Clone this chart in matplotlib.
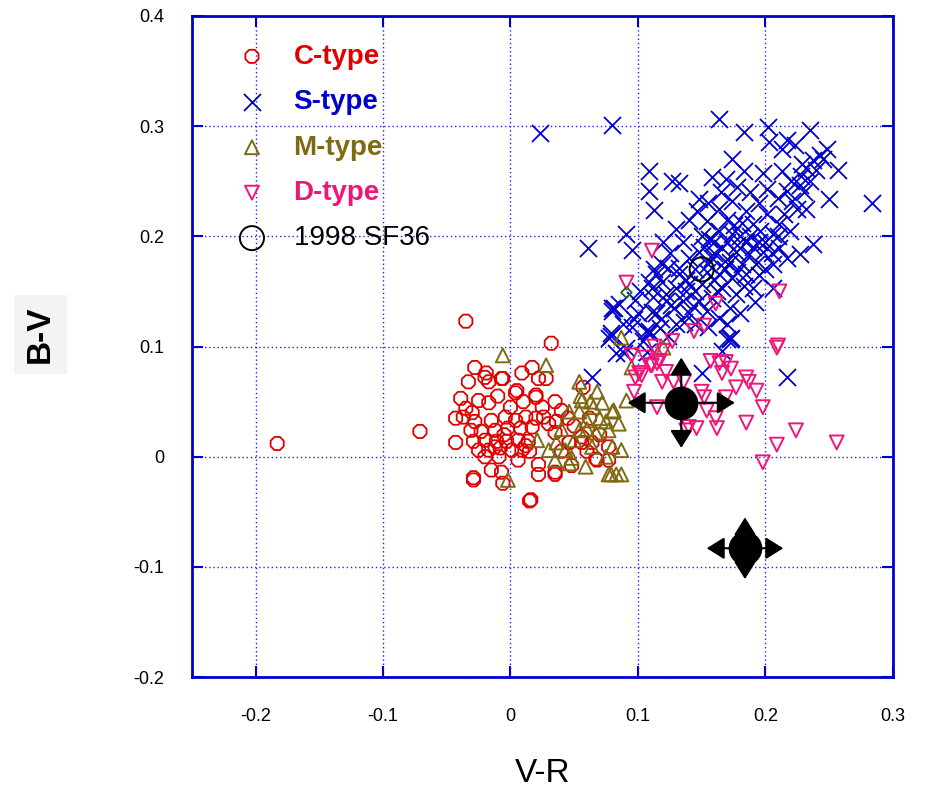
import matplotlib
matplotlib.use("Agg")
import matplotlib.pyplot as plt

# ---- data (V-R, B-V) ----
c_x = [-0.183, -0.071, -0.035, 0.032, 0.015, -0.029, -0.028, -0.033, -0.020, -0.017,
       -0.006, 0.009, 0.017, 0.022, 0.028, 0.004, 0.020, -0.039, -0.025, -0.017,
       0.035, -0.043, -0.037, -0.028, -0.015, -0.004, 0.004, 0.012, 0.020, 0.026,
       0.036, -0.031, -0.023, -0.012, -0.002, 0.008, 0.017, 0.035, -0.043, -0.029,
       -0.020, -0.011, -0.003, 0.006, 0.014, 0.046, -0.025, -0.017, -0.008, 0.001,
       0.009, -0.020, -0.009, 0.006, 0.022, -0.015, -0.007, 0.022, 0.035, -0.029,
       -0.006, 0.016, 0.064, 0.056, 0.077, 0.067, 0.057, 0.040, 0.046, 0.035,
       0.068, 0.056, 0.077, 0.000, 0.010, -0.010, 0.025, 0.030, -0.005, 0.015,
       -0.030, 0.040, 0.045, -0.019, -0.007, 0.005, 0.020, -0.012, 0.012, -0.035,
       0.050, 0.060, 0.070, 0.048, 0.062]
c_y = [0.012, 0.023, 0.123, 0.103, -0.040, -0.021, 0.081, 0.068, 0.072, 0.068,
       0.071, 0.076, 0.081, 0.071, 0.071, 0.058, 0.056, 0.053, 0.051, 0.049,
       0.050, 0.035, 0.036, 0.032, 0.033, 0.036, 0.033, 0.036, 0.035, 0.036,
       0.032, 0.024, 0.023, 0.024, 0.026, 0.026, 0.027, 0.022, 0.013, 0.014,
       0.015, 0.014, 0.014, 0.015, 0.014, 0.013, 0.006, 0.006, 0.008, 0.006,
       0.006, 0.000, 0.000, -0.003, -0.007, -0.012, -0.014, -0.016, -0.016, -0.019,
       -0.024, -0.039, 0.013, 0.018, -0.003, -0.002, 0.063, 0.042, 0.013, -0.014,
       -0.003, 0.013, 0.009, 0.045, 0.050, 0.055, 0.045, 0.030, 0.020, 0.005,
       0.040, 0.005, 0.035, 0.076, 0.071, 0.060, 0.054, 0.009, 0.010, 0.044,
       0.028, 0.005, 0.020, -0.008, 0.035]

s_x = [0.023, 0.080, 0.164, 0.183, 0.202, 0.203, 0.213, 0.217, 0.223, 0.235,
       0.248, 0.243, 0.237, 0.229, 0.257, 0.284, 0.250, 0.109, 0.109, 0.113,
       0.127, 0.132, 0.174, 0.158, 0.148, 0.169, 0.183, 0.198, 0.213, 0.201,
       0.217, 0.227, 0.221, 0.232, 0.237, 0.227, 0.091, 0.061, 0.095, 0.080,
       0.085, 0.079, 0.064, 0.217, 0.172, 0.166, 0.150, 0.079, 0.083, 0.109,
       0.107, 0.091, 0.081, 0.190, 0.206, 0.173,
       0.114, 0.119, 0.124, 0.111, 0.130, 0.122, 0.135, 0.114, 0.140, 0.109,
       0.117, 0.130, 0.135, 0.146, 0.154, 0.164, 0.174, 0.185, 0.190, 0.201,
       0.211, 0.219, 0.206, 0.195, 0.185, 0.174, 0.164, 0.156, 0.166, 0.177,
       0.187, 0.198, 0.211, 0.217, 0.206, 0.193, 0.182, 0.172, 0.158, 0.148,
       0.140, 0.154, 0.164, 0.174, 0.185, 0.166, 0.177, 0.158, 0.148, 0.172,
       0.154, 0.164, 0.140, 0.132, 0.150,
       0.080, 0.077, 0.089, 0.106, 0.111, 0.122, 0.109, 0.113, 0.119, 0.132,
       0.138, 0.143, 0.170,
       0.160, 0.170, 0.175, 0.180, 0.190, 0.160, 0.168, 0.178, 0.188, 0.196,
       0.182, 0.170, 0.150, 0.145, 0.155, 0.160, 0.168, 0.178, 0.200, 0.205,
       0.210, 0.215, 0.225, 0.230, 0.235, 0.240, 0.245, 0.232, 0.228, 0.220,
       0.210, 0.195, 0.188, 0.178, 0.165, 0.155, 0.140, 0.125, 0.120, 0.138,
       0.145, 0.152, 0.162, 0.183, 0.195, 0.200, 0.192, 0.180, 0.170, 0.155,
       0.145, 0.130, 0.128, 0.100, 0.095, 0.102, 0.098,
       0.104, 0.118, 0.126, 0.097, 0.112, 0.088, 0.124, 0.136]
s_y = [0.294, 0.301, 0.306, 0.295, 0.299, 0.286, 0.279, 0.287, 0.283, 0.296,
       0.279, 0.274, 0.269, 0.266, 0.260, 0.230, 0.234, 0.259, 0.241, 0.224,
       0.250, 0.248, 0.270, 0.254, 0.234, 0.252, 0.259, 0.257, 0.259, 0.243,
       0.241, 0.247, 0.232, 0.225, 0.193, 0.184, 0.202, 0.189, 0.188, 0.132,
       0.139, 0.112, 0.072, 0.072, 0.107, 0.096, 0.076, 0.110, 0.094, 0.112,
       0.095, 0.099, 0.135, 0.153, 0.153, 0.108,
       0.166, 0.159, 0.171, 0.153, 0.153, 0.141, 0.141, 0.130, 0.130, 0.114,
       0.117, 0.207, 0.195, 0.223, 0.214, 0.225, 0.232, 0.223, 0.211, 0.220,
       0.211, 0.205, 0.202, 0.195, 0.195, 0.202, 0.205, 0.198, 0.189, 0.186,
       0.184, 0.186, 0.189, 0.180, 0.175, 0.175, 0.175, 0.177, 0.180, 0.186,
       0.180, 0.168, 0.166, 0.162, 0.166, 0.153, 0.148, 0.144, 0.141, 0.135,
       0.132, 0.126, 0.157, 0.171, 0.157,
       0.135, 0.108, 0.094, 0.114, 0.131, 0.148, 0.159, 0.170, 0.175, 0.166,
       0.150, 0.137, 0.107,
       0.195, 0.195, 0.210, 0.200, 0.190, 0.185, 0.178, 0.192, 0.200, 0.205,
       0.212, 0.215, 0.200, 0.170, 0.175, 0.160, 0.170, 0.168, 0.195, 0.185,
       0.200, 0.220, 0.225, 0.240, 0.250, 0.260, 0.270, 0.262, 0.255, 0.250,
       0.235, 0.230, 0.240, 0.245, 0.240, 0.230, 0.215, 0.185, 0.195, 0.160,
       0.150, 0.190, 0.150, 0.155, 0.165, 0.170, 0.140, 0.130, 0.120, 0.118,
       0.120, 0.120, 0.135, 0.130, 0.118, 0.150, 0.142,
       0.105, 0.125, 0.138, 0.125, 0.145, 0.120, 0.110, 0.122]

m_x = [-0.006, 0.028, 0.054, 0.068, 0.056, 0.063, 0.072, 0.046, 0.054, 0.080,
       0.060, 0.075, 0.054, 0.067, 0.077, 0.021, 0.036, 0.030, 0.043, 0.064,
       0.080, 0.035, 0.048, 0.046, 0.059, 0.077, 0.083, -0.002, 0.087, 0.120,
       0.095, 0.081, 0.087, 0.079, 0.087, 0.091, 0.040, 0.050, 0.060, 0.070,
       0.085, 0.075, 0.065, 0.055]
m_y = [0.092, 0.083, 0.068, 0.059, 0.051, 0.050, 0.049, 0.041, 0.041, 0.041,
       0.033, 0.032, 0.024, 0.022, 0.024, 0.015, 0.013, 0.006, 0.006, 0.009,
       0.009, -0.003, -0.001, -0.006, -0.009, -0.016, -0.016, -0.021, 0.108, 0.099,
       0.081, 0.042, 0.006, -0.016, -0.016, 0.051, 0.025, 0.015, 0.025, 0.035,
       0.030, 0.000, 0.045, 0.055]

d_x = [0.144, 0.152, 0.127, 0.120, 0.095, 0.110, 0.117, 0.122, 0.098, 0.103,
       0.119, 0.128, 0.097, 0.115, 0.136, 0.150, 0.152, 0.157, 0.164, 0.169,
       0.166, 0.173, 0.177, 0.187, 0.193, 0.198, 0.169, 0.154, 0.161, 0.162,
       0.185, 0.140, 0.146, 0.138, 0.209, 0.224, 0.209, 0.256, 0.198, 0.111,
       0.091, 0.161, 0.211, 0.210, 0.111, 0.115, 0.101, 0.185, 0.106, 0.113]
d_y = [0.114, 0.119, 0.105, 0.096, 0.092, 0.083, 0.087, 0.077, 0.072, 0.074,
       0.068, 0.068, 0.059, 0.045, 0.068, 0.059, 0.054, 0.087, 0.085, 0.086,
       0.076, 0.080, 0.063, 0.068, 0.060, 0.045, 0.054, 0.042, 0.035, 0.026,
       0.031, 0.027, 0.026, 0.024, 0.099, 0.024, 0.011, 0.013, -0.005, 0.187,
       0.158, 0.139, 0.150, 0.101, 0.083, 0.085, 0.076, 0.072, 0.090, 0.100]

sf36_x = [0.150]
sf36_y = [0.170]
extra_x = [0.091]   # small green diamond
extra_y = [0.149]

big_x = [0.134, 0.184]
big_y = [0.049, -0.083]
big_xerr = [0.042, 0.030]
big_yerr = [0.041, 0.028]

xticks = [-0.2, -0.1, 0.0, 0.1, 0.2, 0.3]
xtick_labels = ["-0.2", "-0.1", "0", "0.1", "0.2", "0.3"]
yticks = [-0.2, -0.1, 0.0, 0.1, 0.2, 0.3, 0.4]
ytick_labels = ["-0.2", "-0.1", "0", "0.1", "0.2", "0.3", "0.4"]

FRAME = "#0000cc"
narrow = ["Liberation Sans Narrow", "Liberation Sans", "DejaVu Sans"]
plt.rcParams["font.family"] = ["Liberation Sans", "DejaVu Sans"]

fig = plt.figure(figsize=(9.31, 7.93), dpi=100)
ax = fig.add_axes([0.206, 0.146, 0.753, 0.834])

ax.scatter(c_x, c_y, s=105, marker="8", facecolors="none", edgecolors="#e00000",
           linewidths=1.3, label="C-type", zorder=3)
ax.scatter(s_x, s_y, s=150, marker="x", color="#0000cc", linewidths=1.3,
           label="S-type", zorder=4)
ax.scatter(m_x, m_y, s=100, marker="^", facecolors="none", edgecolors="#7f6a12",
           linewidths=1.4, label="M-type", zorder=5)
ax.scatter(d_x, d_y, s=100, marker="v", facecolors="none", edgecolors="#ee1679",
           linewidths=1.4, label="D-type", zorder=6)
ax.scatter(sf36_x, sf36_y, s=300, marker="o", facecolors="none", edgecolors="black",
           linewidths=1.4, label="1998 SF36", zorder=7)
ax.scatter(extra_x, extra_y, s=30, marker="D", facecolors="none", edgecolors="#1f6b1f",
           linewidths=1.3, zorder=7)

# big black points with arrow error bars
ax.scatter(big_x, big_y, s=540, marker="o", color="black", zorder=9)
for x, y, ex, ey in zip(big_x, big_y, big_xerr, big_yerr):
    for tx, ty in [(x - ex, y), (x + ex, y), (x, y + ey), (x, y - ey)]:
        ax.annotate("", xy=(tx, ty), xytext=(x, y),
                    arrowprops=dict(arrowstyle="-|>,head_length=0.4,head_width=0.25",
                                    color="black", lw=1.5, mutation_scale=27,
                                    shrinkA=0, shrinkB=0), zorder=8)

ax.set_xlim(-0.25, 0.3)
ax.set_ylim(-0.2, 0.4)
ax.set_xticks(xticks)
ax.set_xticklabels(xtick_labels)
ax.set_yticks(yticks)
ax.set_yticklabels(ytick_labels)
ax.tick_params(direction="in", length=8, width=1.5, color=FRAME, labelsize=13,
               top=True, right=True)
ax.tick_params(axis="x", pad=22)
ax.tick_params(axis="y", pad=20)
for sp in ax.spines.values():
    sp.set_color(FRAME)
    sp.set_linewidth(2)
ax.grid(True, color="#2020ff", linestyle=(0, (1, 2)), linewidth=1.0)
ax.set_axisbelow(True)

ax.set_xlabel("V-R", fontsize=24, family=narrow, labelpad=24)
fig.text(0.043, 0.578, "B-V", rotation=90, fontsize=24, fontweight="bold",
         family=narrow, ha="center", va="center",
         bbox=dict(facecolor="#f3f3f3", edgecolor="none", pad=8))

leg = ax.legend(loc="upper left", bbox_to_anchor=(0.066, 0.958), frameon=False,
                fontsize=20, handlelength=1.0, handletextpad=1.0, labelspacing=0.7,
                borderpad=0, borderaxespad=0,
                labelcolor=["#e00000", "#0000cc", "#7f6a12", "#ee1679", "black"])
for t in leg.get_texts()[:4]:
    t.set_fontweight("bold")

fig.savefig("out.png", dpi=100)
